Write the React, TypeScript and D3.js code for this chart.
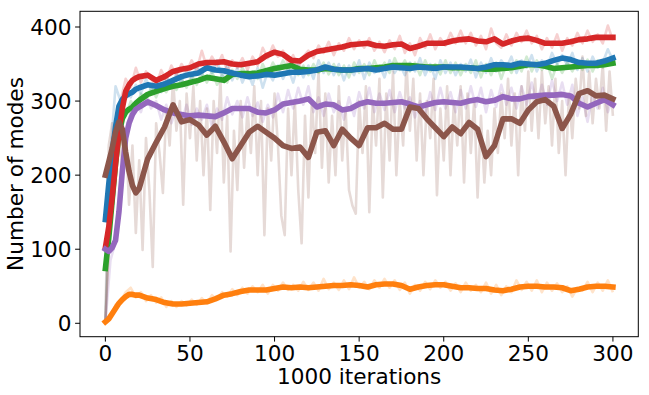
import * as d3 from "d3";

// x grid for the smoothed curves (finer at the start where they rise fast)
const smoothX = [0, 2, 4, 6, 8, 10, 12, 14, 16, 18, 20, 25, 30, 35, 40, 45, 50, 55, 60, 65, 70, 75, 80, 85, 90, 95, 100, 105, 110, 115, 120, 125, 130, 135, 140, 145, 150, 155, 160, 165, 170, 175, 180, 185, 190, 195, 200, 205, 210, 215, 220, 225, 230, 235, 240, 245, 250, 255, 260, 265, 270, 275, 280, 285, 290, 295, 300];

const blueSmooth = [140, 188, 230, 265, 293, 302, 307, 310, 312, 316, 318, 322, 320, 323, 328, 333, 336, 338, 345, 342, 341, 338, 335, 333, 334, 336, 335, 337, 339, 339, 340, 342, 346, 343, 342, 342, 343, 344, 342, 344, 346, 345, 344, 346, 345, 344, 346, 346, 346, 345, 344, 346, 349, 349, 348, 351, 350, 349, 351, 355, 358, 356, 352, 351, 351, 354, 358];
const orangeSmooth = [2, 6, 13, 20, 27, 32, 36, 39, 39, 38, 38, 34, 32, 28, 26, 26, 27, 28, 29, 33, 38, 40, 43, 45, 45, 45, 47, 49, 48, 49, 48, 49, 50, 51, 51, 52, 51, 49, 52, 53, 53, 51, 46, 49, 51, 52, 52, 50, 48, 48, 47, 47, 45, 44, 46, 49, 50, 50, 49, 49, 48, 44, 46, 49, 50, 50, 49];
const greenSmooth = [74, 115, 165, 215, 255, 276, 285, 289, 292, 297, 301, 309, 313, 317, 320, 322, 325, 328, 332, 330, 328, 336, 337, 337, 338, 341, 344, 346, 348, 343, 342, 342, 344, 343, 342, 342, 344, 344, 345, 346, 348, 348, 348, 347, 346, 346, 346, 345, 345, 345, 344, 343, 343, 344, 345, 347, 349, 349, 347, 344, 345, 346, 347, 348, 348, 349, 351];
const redSmooth = [102, 130, 170, 215, 258, 290, 313, 322, 328, 331, 333, 335, 328, 333, 340, 343, 345, 350, 352, 352, 353, 350, 349, 351, 353, 361, 366, 363, 355, 354, 362, 367, 369, 371, 373, 376, 377, 378, 375, 374, 376, 377, 371, 374, 378, 378, 378, 381, 383, 384, 381, 380, 384, 377, 381, 384, 385, 382, 378, 378, 378, 380, 383, 384, 386, 386, 386];
const purpleSmooth = [100, 97, 102, 112, 150, 205, 250, 270, 282, 289, 292, 299, 294, 288, 284, 282, 280, 281, 280, 279, 284, 290, 290, 290, 285, 284, 288, 296, 298, 300, 303, 292, 296, 295, 288, 290, 296, 299, 297, 297, 298, 299, 296, 292, 295, 298, 299, 298, 297, 300, 302, 299, 301, 306, 303, 303, 306, 307, 308, 308, 309, 307, 297, 292, 297, 302, 295];
const brownSmooth = [200, 218, 236, 258, 272, 262, 231, 205, 186, 176, 182, 222, 244, 265, 295, 272, 275, 268, 254, 266, 245, 222, 240, 258, 266, 258, 250, 240, 236, 238, 224, 258, 260, 240, 262, 250, 240, 264, 264, 270, 262, 262, 292, 290, 276, 264, 252, 265, 256, 271, 262, 225, 240, 276, 276, 270, 288, 299, 302, 293, 263, 282, 310, 314, 307, 308, 303];

// raw runs, one value every 3 iterations (x = 0, 3, ..., 300)
const rawX3 = d3.range(0, 301, 3);
const blueRaw = [0, 230, 320, 300, 318, 305, 322, 310, 330, 315, 325, 312, 335, 320, 338, 325, 345, 330, 348, 335, 352, 338, 355, 332, 348, 328, 345, 325, 340, 322, 345, 318, 340, 328, 348, 330, 345, 325, 350, 332, 348, 330, 355, 338, 352, 335, 350, 328, 348, 335, 355, 330, 352, 338, 348, 332, 355, 338, 350, 335, 352, 340, 358, 335, 350, 330, 355, 338, 352, 335, 350, 340, 356, 332, 352, 338, 358, 340, 355, 345, 360, 338, 355, 345, 362, 340, 355, 345, 365, 350, 362, 348, 365, 342, 358, 340, 360, 345, 352, 370, 355];
const orangeRaw = [0, 8, 25, 30, 42, 48, 35, 42, 30, 38, 28, 35, 22, 30, 22, 30, 24, 32, 25, 34, 27, 38, 32, 42, 36, 46, 38, 48, 40, 50, 42, 52, 40, 52, 44, 55, 45, 52, 44, 56, 45, 55, 44, 60, 46, 55, 45, 58, 46, 62, 48, 56, 46, 58, 48, 60, 48, 58, 45, 55, 40, 52, 44, 56, 46, 58, 48, 56, 44, 54, 42, 55, 44, 52, 42, 55, 40, 52, 38, 50, 42, 58, 45, 56, 44, 58, 42, 55, 44, 54, 42, 50, 36, 48, 44, 56, 42, 55, 44, 58, 42];
const greenRaw = [0, 170, 250, 285, 280, 300, 290, 310, 302, 318, 305, 322, 312, 328, 315, 330, 318, 335, 322, 338, 325, 340, 322, 335, 325, 342, 330, 345, 332, 340, 330, 350, 335, 352, 340, 355, 342, 350, 335, 348, 335, 350, 338, 352, 336, 350, 335, 348, 332, 352, 338, 350, 335, 355, 340, 352, 338, 358, 342, 355, 340, 352, 335, 355, 340, 350, 336, 355, 338, 352, 335, 350, 338, 355, 332, 350, 335, 352, 330, 350, 338, 355, 340, 360, 340, 355, 342, 352, 330, 350, 338, 352, 340, 355, 342, 356, 340, 355, 345, 358, 348];
const redRaw = [0, 150, 240, 300, 330, 318, 345, 325, 340, 330, 320, 342, 328, 348, 335, 350, 340, 355, 342, 368, 345, 360, 348, 362, 340, 355, 345, 358, 342, 360, 348, 372, 358, 375, 360, 368, 350, 362, 345, 360, 368, 358, 375, 365, 380, 362, 378, 368, 385, 370, 382, 372, 385, 368, 380, 366, 382, 370, 388, 365, 378, 362, 385, 372, 390, 370, 385, 375, 392, 378, 395, 378, 392, 375, 388, 370, 398, 378, 372, 390, 375, 392, 380, 395, 378, 388, 370, 385, 372, 390, 368, 385, 375, 392, 378, 395, 380, 390, 378, 402, 382];
const purpleRaw = [0, 85, 110, 180, 260, 285, 300, 285, 310, 290, 300, 275, 295, 270, 290, 272, 295, 268, 290, 275, 295, 265, 290, 275, 305, 282, 300, 278, 305, 280, 298, 272, 295, 278, 310, 285, 315, 290, 318, 295, 320, 285, 305, 280, 310, 285, 300, 275, 305, 280, 312, 290, 318, 285, 310, 288, 315, 285, 312, 290, 305, 278, 300, 282, 312, 288, 318, 290, 312, 285, 315, 290, 320, 292, 318, 285, 315, 292, 322, 295, 318, 290, 320, 295, 325, 298, 322, 295, 328, 300, 325, 295, 322, 280, 305, 272, 310, 290, 318, 285, 305];

// brown raw is much noisier, one value every 2 iterations
const rawX2 = d3.range(0, 301, 2);
const brownRaw = [0, 240, 270, 250, 290, 200, 260, 160, 240, 122, 220, 99, 250, 180, 76, 270, 230, 176, 290, 240, 330, 260, 300, 160, 310, 250, 320, 220, 300, 200, 290, 153, 300, 230, 330, 190, 280, 97, 260, 180, 300, 210, 290, 230, 320, 200, 300, 119, 290, 220, 310, 240, 145, 119, 290, 200, 300, 180, 108, 280, 170, 300, 230, 340, 210, 310, 190, 280, 200, 320, 220, 290, 180, 159, 148, 300, 230, 320, 150, 300, 240, 330, 170, 310, 220, 340, 200, 300, 240, 350, 260, 330, 220, 310, 200, 300, 250, 330, 173, 290, 220, 320, 200, 300, 240, 320, 190, 310, 230, 300, 170, 280, 190, 260, 200, 290, 230, 310, 250, 330, 240, 310, 200, 320, 260, 340, 260, 330, 250, 340, 270, 320, 240, 330, 230, 300, 200, 310, 250, 330, 290, 360, 280, 340, 270, 330, 290, 350, 260, 340, 280];

const yTicks = [0, 100, 200, 300, 400];
const xTicks = [0, 50, 100, 150, 200, 250, 300];

const series = [
  { color: "#ff7f0e", raw: orangeRaw, rawX: rawX3, smooth: orangeSmooth },
  { color: "#2ca02c", raw: greenRaw, rawX: rawX3, smooth: greenSmooth },
  { color: "#1f77b4", raw: blueRaw, rawX: rawX3, smooth: blueSmooth },
  { color: "#d62728", raw: redRaw, rawX: rawX3, smooth: redSmooth },
  { color: "#9467bd", raw: purpleRaw, rawX: rawX3, smooth: purpleSmooth },
  { color: "#8c564b", raw: brownRaw, rawX: rawX2, smooth: brownSmooth },
];

export default function App() {
  const W = 649;
  const H = 395;
  const left = 80, right = 638.3, top = 11.3, bottom = 336.7;
  const fs = 21.6;

  const x = d3.scaleLinear().domain([-15, 315]).range([left, right]);
  const y = d3.scaleLinear().domain([-18.1, 421.2]).range([bottom, top]);

  const line = d3
    .line<[number, number]>()
    .x((d) => x(d[0]))
    .y((d) => y(d[1]));

  const zip = (xs: number[], ys: number[]) => ys.map((v, i) => [xs[i], v] as [number, number]);

  return (
    <svg
      width={W}
      height={H}
      style={{ position: "absolute", left: 0, top: 0, background: "#fff" }}
      fontFamily="DejaVu Sans"
    >
      <defs>
        <clipPath id="plot">
          <rect x={left} y={top} width={right - left} height={bottom - top} />
        </clipPath>
      </defs>
      <g clipPath="url(#plot)">
        {series.map((s, i) => (
          <path
            key={"raw" + i}
            d={line(zip(s.rawX, s.raw)) || ""}
            fill="none"
            stroke={s.color}
            strokeOpacity={0.22}
            strokeWidth={2.6}
            strokeLinejoin="round"
          />
        ))}
        {series.map((s, i) => (
          <path
            key={"sm" + i}
            d={line(zip(smoothX, s.smooth)) || ""}
            fill="none"
            stroke={s.color}
            strokeWidth={5.6}
            strokeLinejoin="round"
            strokeLinecap="square"
          />
        ))}
      </g>
      <rect x={left} y={top} width={right - left} height={bottom - top} fill="none" stroke="#000" strokeWidth={1} />
      {yTicks.map((t) => (
        <g key={"y" + t} transform={`translate(${left},${y(t)})`}>
          <line x1={-4.9} x2={0} stroke="#000" strokeWidth={1} />
          <text x={-8.6} dy="0.36em" textAnchor="end" fontSize={fs} fill="#000">
            {t}
          </text>
        </g>
      ))}
      {xTicks.map((t) => (
        <g key={"x" + t} transform={`translate(${x(t)},${bottom})`}>
          <line y1={0} y2={4.9} stroke="#000" strokeWidth={1} />
          <text y={24} textAnchor="middle" fontSize={fs} fill="#000">
            {t}
          </text>
        </g>
      ))}
      <text x={(left + right) / 2} y={384} textAnchor="middle" fontSize={fs} fill="#000">
        1000 iterations
      </text>
      <text
        transform={`translate(22.5,${(top + bottom) / 2}) rotate(-90)`}
        textAnchor="middle"
        fontSize={fs}
        fill="#000"
      >
        Number of modes
      </text>
    </svg>
  );
}
